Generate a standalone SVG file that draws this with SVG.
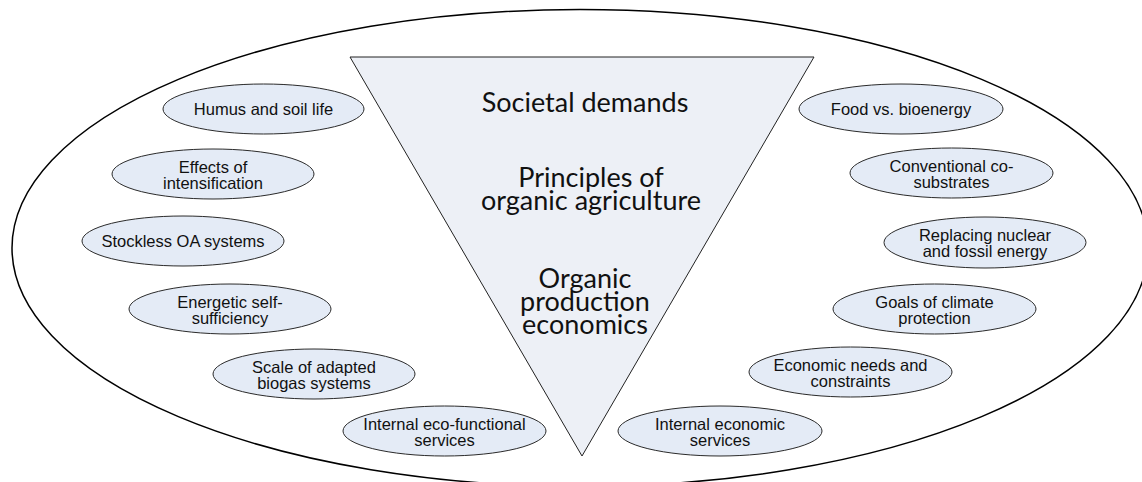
<svg xmlns="http://www.w3.org/2000/svg" width="1142" height="482" viewBox="0 0 1142 482">
<style>
.node ellipse{fill:#E4EBF6;stroke:#2a2a2a;stroke-width:1}
.node text{font-family:"Liberation Sans",Arial,sans-serif;font-size:16.5px;fill:#111;text-anchor:middle}
.tri text{font-family:Lato,"Open Sans",sans-serif;font-size:27px;fill:#111;text-anchor:middle}
</style>
<rect width="1142" height="482" fill="#fff"/>
<g id="outer"><ellipse cx="580" cy="248" rx="568" ry="238.5" fill="none" stroke="#000" stroke-width="1.5"/></g>
<g id="triangle" class="tri">
<polygon points="350,57 814,57 582,456" fill="#EDF0F6" stroke="#222" stroke-width="1"/>
<text x="585" y="111.5">Societal demands</text>
<text x="591" y="187">Principles of</text>
<text x="591" y="210">organic agriculture</text>
<text x="585" y="288">Organic</text>
<text x="585" y="311">production</text>
<text x="585" y="334">economics</text>
</g>
<g id="n1" class="node"><ellipse cx="263.5" cy="109" rx="100.5" ry="25"/><text x="263.5" y="115">Humus and soil life</text></g>
<g id="n2" class="node"><ellipse cx="213" cy="174" rx="101" ry="25"/><text x="213" y="172.5">Effects of</text><text x="213" y="188.5">intensification</text></g>
<g id="n3" class="node"><ellipse cx="183" cy="241" rx="101" ry="25"/><text x="183" y="247">Stockless OA systems</text></g>
<g id="n4" class="node"><ellipse cx="230" cy="309" rx="101" ry="25"/><text x="230" y="307.5">Energetic self-</text><text x="230" y="323.5">sufficiency</text></g>
<g id="n5" class="node"><ellipse cx="314" cy="374" rx="101" ry="25"/><text x="314" y="372.5">Scale of adapted</text><text x="314" y="388.5">biogas systems</text></g>
<g id="n6" class="node"><ellipse cx="444.5" cy="431" rx="101.5" ry="25"/><text x="444.5" y="429.5">Internal eco-functional</text><text x="444.5" y="445.5">services</text></g>
<g id="n7" class="node"><ellipse cx="901" cy="109" rx="102" ry="25"/><text x="901" y="115">Food vs. bioenergy</text></g>
<g id="n8" class="node"><ellipse cx="951.5" cy="173" rx="101.5" ry="25"/><text x="951.5" y="171.5">Conventional co-</text><text x="951.5" y="187.5">substrates</text></g>
<g id="n9" class="node"><ellipse cx="985" cy="242.5" rx="101" ry="25.5"/><text x="985" y="241">Replacing nuclear</text><text x="985" y="257">and fossil energy</text></g>
<g id="n10" class="node"><ellipse cx="934.5" cy="309" rx="101.5" ry="25"/><text x="934.5" y="307.5">Goals of climate</text><text x="934.5" y="323.5">protection</text></g>
<g id="n11" class="node"><ellipse cx="850.5" cy="372" rx="101.5" ry="25"/><text x="850.5" y="370.5">Economic needs and</text><text x="850.5" y="386.5">constraints</text></g>
<g id="n12" class="node"><ellipse cx="720" cy="431" rx="102" ry="25"/><text x="720" y="429.5">Internal economic</text><text x="720" y="445.5">services</text></g>
<g id="connectors"></g>
</svg>
